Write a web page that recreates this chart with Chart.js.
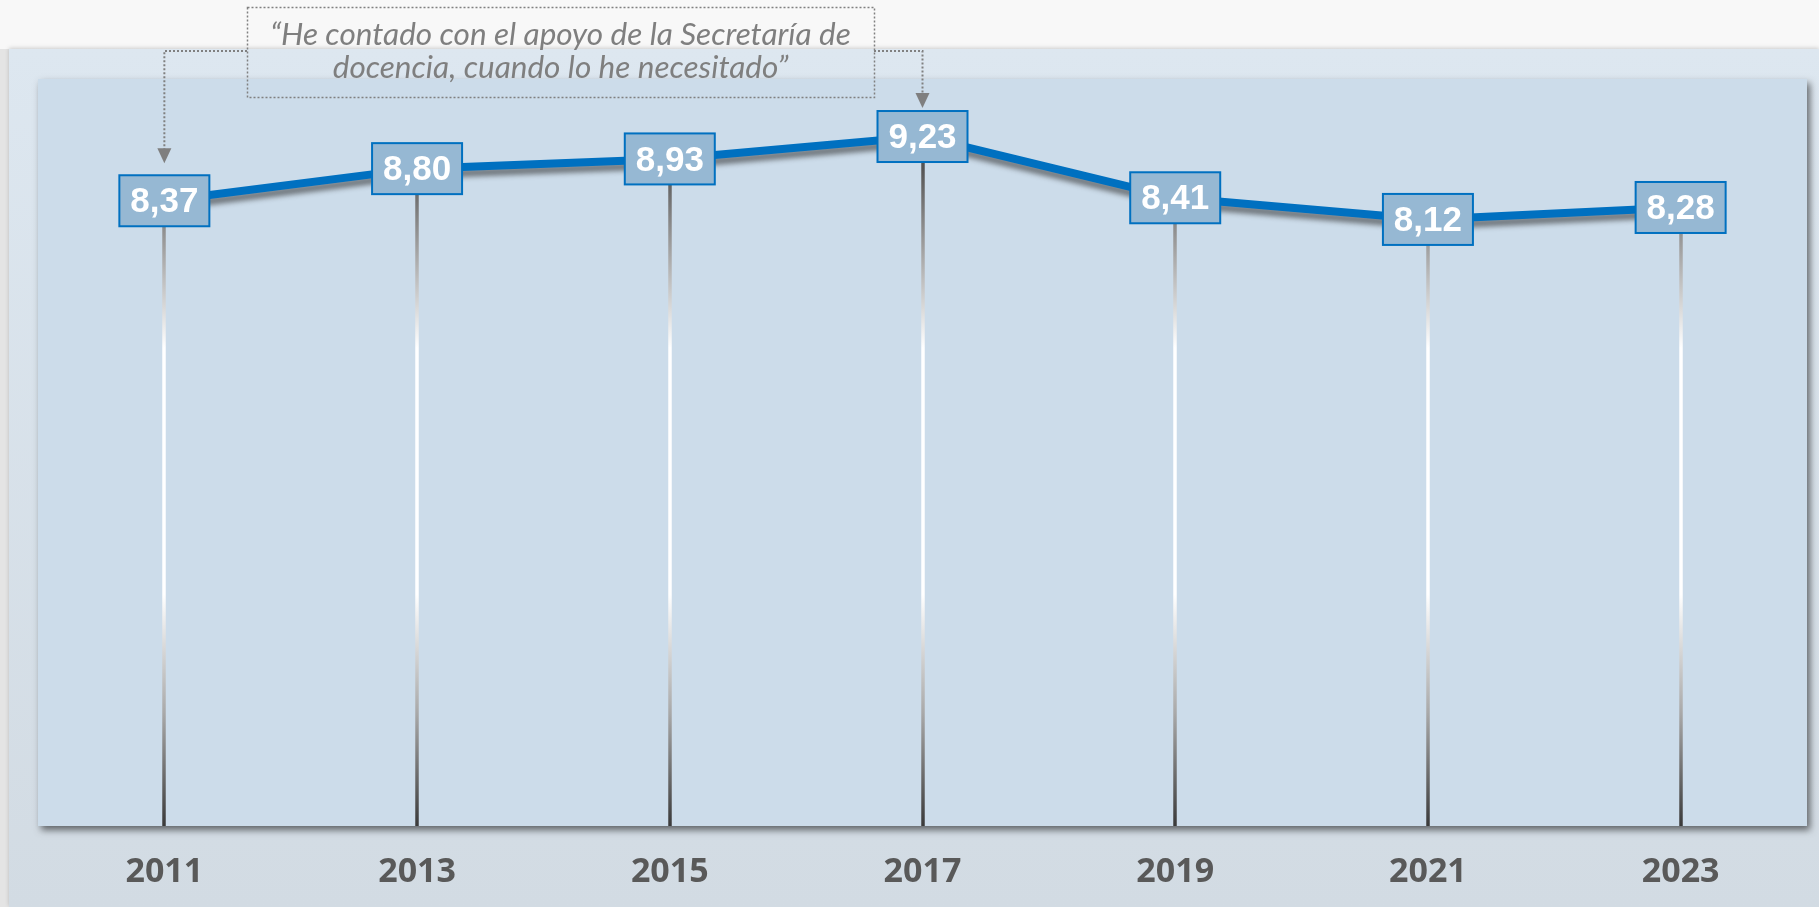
<!DOCTYPE html>
<html>
<head>
<meta charset="utf-8">
<script src="https://cdn.jsdelivr.net/npm/chart.js@4.4.1/dist/chart.umd.min.js"></script>
<style>
  html, body { margin: 0; padding: 0; overflow: hidden; background: #f8f8f8; }
  #wrap { position: relative; width: 1819px; height: 907px; }
</style>
</head>
<body>
<div id="wrap"><canvas id="c"></canvas></div>
<script>
// ---- data ----
const years = ['2011', '2013', '2015', '2017', '2019', '2021', '2023'];
const scores = [8.37, 8.80, 8.93, 9.23, 8.41, 8.12, 8.28];
const scoreLabels = ['8,37', '8,80', '8,93', '9,23', '8,41', '8,12', '8,28'];
const quoteLines = ['\u201CHe contado con el apoyo de la Secretar\u00EDa de', 'docencia, cuando lo he necesitado\u201D'];
const quoteTargets = ['2011', '2017'];
const yMin = 0, yMax = 10;

// ---- styling / layout ----
const PANEL = { x: 9, y: 49 };
const QUOTE_BOX = { x: 247, y: 7, w: 627, h: 90 };
const LABEL_BOX = { w: 90, h: 51 };

const decor = {
  id: 'decor',
  beforeDraw(chart) {
    const ctx = chart.ctx, W = chart.width, H = chart.height, a = chart.chartArea;
    ctx.save();
    ctx.fillStyle = '#f8f8f8';
    ctx.fillRect(0, 0, W, H);
    ctx.fillStyle = '#e4e4e4';
    ctx.fillRect(0, PANEL.y, PANEL.x, H - PANEL.y);
    const g = ctx.createLinearGradient(0, PANEL.y, 0, H);
    g.addColorStop(0, '#dde7f0');
    g.addColorStop(1, '#d2dbe3');
    ctx.shadowColor = 'rgba(0,0,0,0.18)';
    ctx.shadowBlur = 4;
    ctx.shadowOffsetY = -1;
    ctx.fillStyle = g;
    ctx.fillRect(PANEL.x, PANEL.y, W - PANEL.x, H - PANEL.y);
    ctx.shadowColor = 'rgba(0,0,0,0.55)';
    ctx.shadowBlur = 7;
    ctx.shadowOffsetX = 3;
    ctx.shadowOffsetY = 4;
    ctx.fillStyle = '#ccdcea';
    ctx.fillRect(a.left, a.top, a.right - a.left, a.bottom - a.top);
    ctx.restore();
  },
  beforeDatasetsDraw(chart) {
    const ctx = chart.ctx, a = chart.chartArea;
    const meta = chart.getDatasetMeta(0);
    ctx.save();
    const g = ctx.createLinearGradient(0, a.top, 0, a.bottom);
    g.addColorStop(0, '#454545');
    g.addColorStop(0.12, '#555555');
    g.addColorStop(0.36, '#ffffff');
    g.addColorStop(0.69, '#ffffff');
    g.addColorStop(0.85, '#a8a8a8');
    g.addColorStop(1, '#3a3a3a');
    ctx.strokeStyle = g;
    ctx.lineWidth = 3.5;
    meta.data.forEach(p => {
      ctx.beginPath();
      ctx.moveTo(Math.round(p.x), p.y);
      ctx.lineTo(Math.round(p.x), a.bottom);
      ctx.stroke();
    });
    ctx.restore();
    ctx.save();
    ctx.shadowColor = 'rgba(40,40,40,0.55)';
    ctx.shadowBlur = 5;
    ctx.shadowOffsetX = 1;
    ctx.shadowOffsetY = 6;
  },
  afterDatasetsDraw(chart) {
    const ctx = chart.ctx;
    ctx.restore();
    const meta = chart.getDatasetMeta(0);
    ctx.save();
    meta.data.forEach((p, i) => {
      const x = p.x - LABEL_BOX.w / 2, y = p.y - LABEL_BOX.h / 2;
      ctx.fillStyle = '#96b8d3';
      ctx.fillRect(x, y, LABEL_BOX.w, LABEL_BOX.h);
      ctx.strokeStyle = '#0070c0';
      ctx.lineWidth = 2;
      ctx.strokeRect(x, y, LABEL_BOX.w, LABEL_BOX.h);
      ctx.fillStyle = '#ffffff';
      ctx.font = 'bold 35px "Liberation Sans", Arial, sans-serif';
      ctx.textAlign = 'center';
      ctx.textBaseline = 'middle';
      ctx.fillText(scoreLabels[i], p.x, p.y + 2);
    });
    ctx.restore();

    // quote annotation
    ctx.save();
    const xs = chart.scales.x;
    const iL = years.indexOf(quoteTargets[0]), iR = years.indexOf(quoteTargets[1]);
    const xLeft = xs.getPixelForValue(iL);
    const xRight = xs.getPixelForValue(iR);
    const tipL = meta.data[iL].y - LABEL_BOX.h / 2 - 12;
    const tipR = meta.data[iR].y - LABEL_BOX.h / 2 - 3;
    const hy = 51;
    ctx.strokeStyle = '#808080';
    ctx.lineWidth = 2;
    ctx.setLineDash([2, 2]);
    ctx.beginPath();
    ctx.moveTo(QUOTE_BOX.x, hy);
    ctx.lineTo(xLeft, hy);
    ctx.lineTo(xLeft, tipL - 14);
    ctx.moveTo(QUOTE_BOX.x + QUOTE_BOX.w, hy);
    ctx.lineTo(xRight, hy);
    ctx.lineTo(xRight, tipR - 14);
    ctx.stroke();
    ctx.lineWidth = 1.5;
    ctx.strokeRect(QUOTE_BOX.x + 0.5, QUOTE_BOX.y + 0.5, QUOTE_BOX.w, QUOTE_BOX.h);
    ctx.setLineDash([]);
    ctx.fillStyle = '#7f7f7f';
    [[xLeft, tipL], [xRight, tipR]].forEach(([x, t]) => {
      ctx.beginPath();
      ctx.moveTo(x - 7, t - 15);
      ctx.lineTo(x + 7, t - 15);
      ctx.lineTo(x, t);
      ctx.closePath();
      ctx.fill();
    });
    ctx.fillStyle = '#7f7f7f';
    ctx.font = 'italic 400 31.5px Lato, "Open Sans", sans-serif';
    ctx.textAlign = 'center';
    ctx.textBaseline = 'middle';
    const cx = QUOTE_BOX.x + QUOTE_BOX.w / 2;
    ctx.fillText(quoteLines[0], cx, 35);
    ctx.fillText(quoteLines[1], cx, 68);
    ctx.restore();
  }
};

new Chart(document.getElementById('c'), {
  type: 'line',
  data: {
    labels: years,
    datasets: [{
      data: scores,
      borderColor: '#0070c0',
      borderWidth: 8,
      tension: 0,
      pointRadius: 0,
      fill: false
    }]
  },
  options: {
    responsive: true,
    maintainAspectRatio: false,
    animation: false,
    layout: { padding: { left: 38, right: 12, top: 79, bottom: 0 } },
    plugins: { legend: { display: false }, tooltip: { enabled: false } },
    scales: {
      x: {
        offset: true,
        grid: { display: false, drawTicks: false },
        border: { display: false },
        afterFit(scale) { scale.height = 81; },
        ticks: {
          color: '#595959',
          padding: 26,
          maxRotation: 0,
          font: { family: '"Open Sans", sans-serif', size: 34, weight: 'bold' }
        }
      },
      y: { display: false, min: yMin, max: yMax }
    }
  },
  plugins: [decor]
});
</script>
</body>
</html>
